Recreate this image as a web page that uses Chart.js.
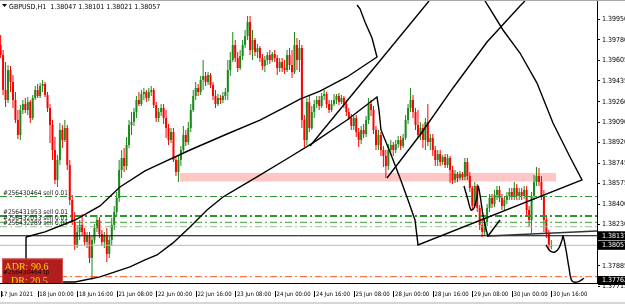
<!DOCTYPE html>
<html><head><meta charset="utf-8">
<script src="https://cdn.jsdelivr.net/npm/chart.js@4.4.1/dist/chart.umd.min.js"></script>
<style>html,body{margin:0;padding:0;background:#fff;overflow:hidden}canvas{display:block}</style>
</head><body>
<canvas id="c" width="625" height="304"></canvas>
<script>
// ---------------- data ----------------
const symbol = 'GBPUSD,H1';
const tickBars = [0,15,31,47,63,79,95,111,127,143,159,175,191,207,223];
const tickLabels = ['17 Jun 2021','18 Jun 00:00','18 Jun 16:00','21 Jun 08:00','22 Jun 00:00','22 Jun 16:00','23 Jun 08:00','24 Jun 00:00','24 Jun 16:00','25 Jun 08:00','28 Jun 00:00','28 Jun 16:00','29 Jun 08:00','30 Jun 00:00','30 Jun 16:00'];
const priceTicks = [1.39950,1.39780,1.39605,1.39435,1.39260,1.39090,1.38920,1.38745,1.38575,1.38400,1.38230,1.37885,1.37715];

const opens = [1.39736,1.39652,1.39359,1.39275,1.39526,1.39426,1.39275,1.39107,1.38982,1.39191,
1.39241,1.39191,1.39258,1.39124,1.39292,1.39359,1.39309,1.39392,1.39409,1.39317,
1.39208,1.39066,1.38856,1.38605,1.38772,1.39024,1.38940,1.39040,1.38730,1.38437,
1.38253,1.38060,1.38169,1.38228,1.38169,1.38085,1.38135,1.37951,1.38102,1.38202,
1.38269,1.38152,1.38085,1.38135,1.37985,1.38102,1.38228,1.38336,1.38454,1.38688,
1.38789,1.38722,1.38898,1.39066,1.39091,1.39174,1.39275,1.39241,1.39325,1.39342,
1.39292,1.39342,1.39359,1.39233,1.39124,1.39174,1.39208,1.39124,1.39040,1.38940,
1.39007,1.38772,1.38672,1.38772,1.38856,1.38982,1.38923,1.39040,1.39191,1.39309,
1.39376,1.39342,1.39443,1.39476,1.39426,1.39485,1.39401,1.39309,1.39241,1.39292,
1.39275,1.39309,1.39342,1.39526,1.39610,1.39736,1.39627,1.39543,1.39644,1.39736,
1.39811,1.39929,1.39694,1.39778,1.39677,1.39711,1.39627,1.39560,1.39610,1.39652,
1.39610,1.39661,1.39627,1.39543,1.39593,1.39543,1.39526,1.39652,1.39568,1.39510,
1.39736,1.39610,1.39711,1.39107,1.38940,1.39258,1.39040,1.39174,1.39241,1.39275,
1.39225,1.39309,1.39325,1.39241,1.39191,1.39241,1.39275,1.39309,1.39258,1.39292,
1.39241,1.39174,1.39124,1.39057,1.39124,1.39007,1.38940,1.39024,1.38990,1.39107,
1.39241,1.39191,1.39024,1.38898,1.38982,1.38856,1.38806,1.38722,1.38856,1.38898,
1.38856,1.38906,1.38940,1.38890,1.38957,1.39107,1.39208,1.39275,1.39174,1.39066,
1.38982,1.39040,1.38940,1.39091,1.38923,1.38957,1.38856,1.38772,1.38823,1.38755,
1.38797,1.38730,1.38789,1.38688,1.38605,1.38655,1.38621,1.38655,1.38630,1.38755,
1.38638,1.38538,1.38387,1.38554,1.38370,1.38228,1.38169,1.38253,1.38370,1.38454,
1.38404,1.38479,1.38521,1.38454,1.38387,1.38437,1.38471,1.38504,1.38471,1.38538,
1.38471,1.38504,1.38471,1.38521,1.38353,1.38269,1.38471,1.38588,1.38638,1.38588,
1.38471,1.38269,1.38152,1.38047];
const highs = [1.39820,1.39694,1.39593,1.39568,1.39560,1.39485,1.39342,1.39191,1.39233,1.39275,
1.39292,1.39300,1.39275,1.39317,1.39392,1.39409,1.39417,1.39443,1.39426,1.39342,
1.39241,1.39107,1.38965,1.38814,1.39082,1.39066,1.39107,1.39066,1.38772,1.38479,
1.38336,1.38228,1.38269,1.38320,1.38202,1.38169,1.38169,1.38135,1.38236,1.38311,
1.38295,1.38186,1.38169,1.38202,1.38135,1.38286,1.38387,1.38504,1.38772,1.38856,
1.38873,1.38965,1.39107,1.39174,1.39208,1.39309,1.39342,1.39359,1.39376,1.39359,
1.39376,1.39392,1.39376,1.39258,1.39208,1.39241,1.39241,1.39191,1.39074,1.39040,
1.39040,1.38806,1.38814,1.38890,1.39057,1.39024,1.39091,1.39241,1.39359,1.39426,
1.39409,1.39476,1.39610,1.39510,1.39510,1.39501,1.39426,1.39359,1.39325,1.39317,
1.39342,1.39376,1.39610,1.39677,1.39845,1.39778,1.39677,1.39694,1.39778,1.39862,
1.39979,1.39979,1.39862,1.39795,1.39744,1.39728,1.39661,1.39644,1.39677,1.39694,
1.39677,1.39694,1.39652,1.39627,1.39627,1.39610,1.39694,1.39711,1.39694,1.39845,
1.39795,1.39778,1.39736,1.39149,1.39292,1.39309,1.39225,1.39275,1.39309,1.39309,
1.39334,1.39359,1.39342,1.39275,1.39275,1.39325,1.39325,1.39334,1.39317,1.39309,
1.39275,1.39208,1.39158,1.39141,1.39149,1.39040,1.39057,1.39074,1.39141,1.39292,
1.39275,1.39225,1.39057,1.39024,1.39007,1.38890,1.38856,1.38906,1.38940,1.38923,
1.38940,1.38973,1.38973,1.38990,1.39149,1.39241,1.39376,1.39317,1.39208,1.39191,
1.39091,1.39074,1.39124,1.39241,1.38990,1.38990,1.38890,1.38856,1.38856,1.38814,
1.38823,1.38823,1.38806,1.38722,1.38688,1.38672,1.38680,1.38672,1.38789,1.38789,
1.38672,1.38554,1.38588,1.38571,1.38395,1.38286,1.38286,1.38404,1.38487,1.38487,
1.38521,1.38554,1.38554,1.38487,1.38471,1.38504,1.38538,1.38538,1.38588,1.38571,
1.38538,1.38538,1.38554,1.38554,1.38387,1.38504,1.38647,1.38714,1.38705,1.38638,
1.38521,1.38311,1.38186,1.38101];
const lows = [1.39627,1.39317,1.39216,1.39250,1.39342,1.39208,1.39082,1.38948,1.38940,1.39158,
1.39166,1.39149,1.39082,1.39107,1.39275,1.39292,1.39292,1.39342,1.39300,1.39174,
1.38915,1.38772,1.38571,1.38546,1.38730,1.38873,1.38923,1.38688,1.38395,1.38228,
1.38018,1.38035,1.38102,1.38144,1.38052,1.38035,1.37909,1.37767,1.38069,1.38169,
1.38119,1.38052,1.38035,1.37917,1.37951,1.38052,1.38186,1.38303,1.38420,1.38621,
1.38672,1.38688,1.38873,1.38982,1.39057,1.39124,1.39225,1.39225,1.39275,1.39258,
1.39267,1.39309,1.39208,1.39091,1.39091,1.39141,1.39074,1.38957,1.38898,1.38915,
1.38755,1.38638,1.38588,1.38722,1.38839,1.38890,1.38898,1.39007,1.39174,1.39275,
1.39309,1.39317,1.39359,1.39392,1.39401,1.39376,1.39275,1.39208,1.39225,1.39241,
1.39250,1.39275,1.39275,1.39476,1.39593,1.39593,1.39510,1.39526,1.39610,1.39711,
1.39778,1.39652,1.39610,1.39644,1.39627,1.39593,1.39526,1.39510,1.39568,1.39577,
1.39593,1.39593,1.39485,1.39510,1.39510,1.39493,1.39510,1.39526,1.39459,1.39493,
1.39526,1.39510,1.39040,1.38881,1.38898,1.39007,1.39024,1.39124,1.39208,1.39191,
1.39208,1.39275,1.39208,1.39166,1.39174,1.39225,1.39241,1.39233,1.39241,1.39208,
1.39141,1.39107,1.39024,1.39024,1.38965,1.38881,1.38906,1.38957,1.38965,1.39074,
1.39141,1.38990,1.38856,1.38856,1.38806,1.38714,1.38621,1.38688,1.38814,1.38806,
1.38831,1.38873,1.38856,1.38873,1.38940,1.39074,1.39174,1.39124,1.39024,1.38957,
1.38940,1.38873,1.38856,1.38890,1.38856,1.38806,1.38722,1.38722,1.38722,1.38730,
1.38705,1.38705,1.38579,1.38571,1.38579,1.38588,1.38605,1.38605,1.38605,1.38605,
1.38504,1.38353,1.38370,1.38336,1.38186,1.38127,1.38135,1.38219,1.38336,1.38370,
1.38378,1.38437,1.38420,1.38353,1.38353,1.38404,1.38437,1.38437,1.38437,1.38437,
1.38437,1.38437,1.38445,1.38311,1.38211,1.38161,1.38437,1.38554,1.38554,1.38437,
1.38169,1.38119,1.38018,1.38021];
const closes = [1.39652,1.39359,1.39275,1.39526,1.39426,1.39275,1.39107,1.38982,1.39191,1.39241,
1.39191,1.39258,1.39124,1.39292,1.39359,1.39309,1.39392,1.39409,1.39317,1.39208,
1.39066,1.38856,1.38605,1.38772,1.39024,1.38940,1.39040,1.38730,1.38437,1.38253,
1.38060,1.38169,1.38228,1.38169,1.38085,1.38135,1.37951,1.38102,1.38202,1.38269,
1.38152,1.38085,1.38135,1.37985,1.38102,1.38228,1.38336,1.38454,1.38688,1.38789,
1.38722,1.38898,1.39066,1.39091,1.39174,1.39275,1.39241,1.39325,1.39342,1.39292,
1.39342,1.39359,1.39233,1.39124,1.39174,1.39208,1.39124,1.39040,1.38940,1.39007,
1.38772,1.38672,1.38772,1.38856,1.38982,1.38923,1.39040,1.39191,1.39309,1.39376,
1.39342,1.39443,1.39476,1.39426,1.39485,1.39401,1.39309,1.39241,1.39292,1.39275,
1.39309,1.39342,1.39526,1.39610,1.39736,1.39627,1.39543,1.39644,1.39736,1.39811,
1.39929,1.39694,1.39778,1.39677,1.39711,1.39627,1.39560,1.39610,1.39652,1.39610,
1.39661,1.39627,1.39543,1.39593,1.39543,1.39526,1.39652,1.39568,1.39510,1.39736,
1.39610,1.39711,1.39107,1.38940,1.39258,1.39040,1.39174,1.39241,1.39275,1.39225,
1.39309,1.39325,1.39241,1.39191,1.39241,1.39275,1.39309,1.39258,1.39292,1.39241,
1.39174,1.39124,1.39057,1.39124,1.39007,1.38940,1.39024,1.38990,1.39107,1.39241,
1.39191,1.39024,1.38898,1.38982,1.38856,1.38806,1.38722,1.38856,1.38898,1.38856,
1.38906,1.38940,1.38890,1.38957,1.39107,1.39208,1.39275,1.39174,1.39066,1.38982,
1.39040,1.38940,1.39091,1.38923,1.38957,1.38856,1.38772,1.38823,1.38755,1.38797,
1.38730,1.38789,1.38688,1.38605,1.38655,1.38621,1.38655,1.38630,1.38755,1.38638,
1.38538,1.38387,1.38554,1.38370,1.38228,1.38169,1.38253,1.38370,1.38454,1.38404,
1.38479,1.38521,1.38454,1.38387,1.38437,1.38471,1.38504,1.38471,1.38538,1.38471,
1.38504,1.38471,1.38521,1.38353,1.38269,1.38471,1.38588,1.38638,1.38588,1.38471,
1.38269,1.38152,1.38052,1.38057];

// horizontal levels
const resistLevel = 1.38137;
const bidLevel = 1.38057;
const tpLevel = 1.37794;
const orderLevels = [1.38466, 1.38303, 1.38250, 1.38213];
const orderTexts = ['#256430464 sell 0.01','#256431953 sell 0.01','#256432033 sell 0.01','#256432289 sell 0.01'];
const tpText = '#256430464 tp';
const axisMarks = [1.38137, 1.38057, 1.37762];
// supply zone (bar index range, price range)
const zoneBars = [72.6, 224.9];
const zonePrices = [1.38663, 1.38592];
// ADR panel
const adrValue = 90.6, drValue = 20.5;

// hand drawn lines: [bar index, price]
const drawUpper = [[10.28,1.38127],[17.97,1.38169],[30.12,1.38269],[40.24,1.38387],[48.34,1.38546],[58.47,1.38680],[64.54,1.38739],[76.69,1.38856],[91.67,1.38990],[105.03,1.39107],[115.16,1.39216],[121.23,1.39283],[129.33,1.39350],[140.26,1.39468],[152.41,1.39635],[150.39,1.39795],[147.55,1.39929],[145.53,1.40039],[144.31,1.40071]];
const drawLower = [[10.28,1.38127],[10.28,1.37750],[30.12,1.37750],[40.24,1.37792],[52.39,1.37876],[58.47,1.37934],[63.33,1.37976],[69.81,1.38077],[76.69,1.38211],[83.57,1.38353],[90.05,1.38462],[96.94,1.38546],[103.82,1.38630],[115.16,1.38772],[126.50,1.38915],[140.26,1.39107],[152.41,1.39300],[153.22,1.39191],[154.03,1.39024],[157.68,1.38839],[161.73,1.38621],[164.97,1.38437],[167.80,1.38269],[169.02,1.38060],[235.43,1.38605],[230.57,1.38797],[223.68,1.39082],[217.20,1.39417],[210.32,1.39669],[203.43,1.39862],[198.17,1.40039],[196.15,1.40105]];
const drawRay1 = [[125.28,1.38890],[173.47,1.40105]];
const drawRay2 = [[156.46,1.38621],[169.83,1.38982],[183.19,1.39376],[196.96,1.39761],[210.32,1.40063],[212.34,1.40105]];
const drawHook = [[187.64,1.38554],[189.26,1.38437],[190.48,1.38353],[191.69,1.38370],[192.91,1.38462],[193.31,1.38554],[194.12,1.38479],[195.34,1.38311],[196.96,1.38161],[197.36,1.38127]];
const drawTick = [[197.36,1.38135],[202.22,1.38269]];
const drawFlat = [[197.36,1.38135],[241.5,1.38177]];
const drawEnd = [[220.85,1.38060],[222.47,1.38010],[224.49,1.38001],[226.11,1.38035],[227.33,1.38102],[227.74,1.38135],[228.95,1.38018],[230.17,1.37867],[231.38,1.37758],[233.81,1.37750],[236.24,1.37781]];

// ---------------- chart ----------------
const FONT = "'Liberation Sans Narrow','DejaVu Sans Condensed','Liberation Sans',sans-serif";
Chart.defaults.font.family = FONT;
const X_MIN = -0.25, X_MAX = 241.5, Y_MIN = 1.37741, Y_MAX = 1.40105;
const BULL = '#1a8a1a', BEAR = '#ff0000';
const candleColors = opens.map((o, i) => closes[i] >= o ? BULL : BEAR);
const DASHDOT = [7, 3, 2, 3];

function hline(p, color, width, dash) {
  return {type:'line', data:[{x:X_MIN,y:p},{x:X_MAX,y:p}], borderColor:color, borderWidth:width,
          borderDash:dash || [], pointRadius:0, fill:false, order:2};
}
function path(pts, extra) {
  return Object.assign({type:'line', data:pts.map(p => ({x:p[0], y:p[1]})), borderColor:'#000',
          borderWidth:1.4, pointRadius:0, fill:false, tension:0, order:1}, extra || {});
}

const datasets = [
  {type:'line', data:[{x:zoneBars[0],y:zonePrices[0]},{x:zoneBars[1],y:zonePrices[0]}], borderWidth:0,
   pointRadius:0, fill:'+1', backgroundColor:'#ffc6c6', order:20},
  {type:'line', data:[{x:zoneBars[0],y:zonePrices[1]},{x:zoneBars[1],y:zonePrices[1]}], borderWidth:0,
   pointRadius:0, fill:false, order:21},
  {type:'bar', data:opens.map((o,i) => ({x:i, y:[lows[i], highs[i]]})), backgroundColor:candleColors,
   barThickness:1, grouped:false, inflateAmount:0, order:6},
  {type:'bar', data:opens.map((o,i) => ({x:i, y:[o, closes[i]]})), backgroundColor:candleColors,
   barThickness:2, grouped:false, inflateAmount:0, minBarLength:1, order:5},
  hline(orderLevels[0], '#2f962f', 1, DASHDOT),
  hline(orderLevels[1], '#2f962f', 2, DASHDOT),
  hline(orderLevels[2], '#3c9c3c', 1, DASHDOT),
  hline(orderLevels[3], '#8cc48c', 1, DASHDOT),
  hline(tpLevel, '#ff5a1e', 1, DASHDOT),
  hline(bidLevel, '#b8b8b8', 1),
  hline(resistLevel, '#000000', 1),
  path(drawUpper), path(drawLower), path(drawRay1), path(drawRay2),
  path(drawHook, {tension:0.35}), path(drawTick), path(drawFlat, {borderColor:'#333'}),
  path(drawEnd, {tension:0.35})
];

const overlay = {
  id:'overlay',
  afterDatasetsDraw(chart) {
    const {ctx, chartArea:a, scales:{y}} = chart;
    ctx.save();
    ctx.beginPath(); ctx.rect(a.left, a.top, a.right - a.left, a.bottom - a.top); ctx.clip();
    ctx.textAlign = 'left'; ctx.textBaseline = 'alphabetic';
    ctx.font = '6.5px ' + FONT; ctx.fillStyle = '#222';
    orderLevels.forEach((p, k) => ctx.fillText(orderTexts[k], 3, y.getPixelForValue(p) - 2));
    // ADR panel
    ctx.fillStyle = '#b01e1e'; ctx.fillRect(2, 258.5, 61, 30);
    ctx.strokeStyle = '#d65050'; ctx.lineWidth = 1; ctx.strokeRect(2.5, 259, 60, 30);
    ctx.fillStyle = '#ffd400'; ctx.font = "10px 'Liberation Serif', serif";
    ctx.fillText('ADR: ' + adrValue.toFixed(1), 4.5, 270);
    ctx.fillText('DR: ' + drValue.toFixed(1), 11, 284);
    ctx.font = '6.5px ' + FONT; ctx.fillStyle = '#111';
    ctx.fillText(tpText, 3, y.getPixelForValue(tpLevel) - 2.5);
    ctx.restore();
  },
  afterDraw(chart) {
    const {ctx, scales:{x, y}} = chart;
    ctx.save();
    ctx.fillStyle = '#a8a8a8'; ctx.fillRect(0, 0, 625, 1);
    ctx.fillStyle = '#d6d6d6'; ctx.fillRect(0, 302, 625, 2);
    ctx.strokeStyle = '#000'; ctx.lineWidth = 1;
    tickBars.forEach(v => {
      const px = Math.round(x.getPixelForValue(v)) + 0.5;
      ctx.beginPath(); ctx.moveTo(px, 291); ctx.lineTo(px, 297); ctx.stroke();
    });
    ctx.font = '7px ' + FONT; ctx.textBaseline = 'middle'; ctx.textAlign = 'left';
    axisMarks.forEach(p => {
      const py = y.getPixelForValue(p);
      ctx.fillStyle = '#000'; ctx.fillRect(598, py - 4.5, 27, 9);
      ctx.fillStyle = '#fff'; ctx.fillText(p.toFixed(5), 602, py);
    });
    ctx.fillStyle = '#000';
    ctx.beginPath(); ctx.moveTo(2, 4); ctx.lineTo(7, 4); ctx.lineTo(4.5, 7); ctx.closePath(); ctx.fill();
    const n = opens.length - 1;
    ctx.font = '7px ' + FONT; ctx.textBaseline = 'alphabetic';
    ctx.fillText(symbol + '  ' + [opens[n], highs[n], lows[n], closes[n]].map(v => v.toFixed(5)).join(' '), 9, 8.5);
    ctx.restore();
  }
};

new Chart(document.getElementById('c'), {
  type:'bar',
  data:{datasets},
  options:{
    responsive:false, animation:false, devicePixelRatio:1,
    layout:{padding:{top:1,left:0,right:0,bottom:0}, autoPadding:false},
    plugins:{legend:{display:false}, tooltip:{enabled:false}},
    scales:{
      x:{type:'linear', min:X_MIN, max:X_MAX, offset:false, bounds:'data',
         grid:{display:false, drawOnChartArea:false, drawTicks:false, offset:false},
         border:{display:true, color:'#000', width:1},
         afterBuildTicks:s => { s.ticks = tickBars.map(v => ({value:v})); },
         afterFit:s => { s.height = 21; s.paddingLeft = 0; s.paddingRight = 0; },
         ticks:{autoSkip:false, maxRotation:0, minRotation:0, align:'start', padding:8, color:'#000',
                font:{size:6, family:FONT},
                callback:v => { const k = tickBars.indexOf(v); return k < 0 ? '' : (k === 0 ? '' : ' ') + tickLabels[k]; }}},
      y:{type:'linear', position:'right', min:Y_MIN, max:Y_MAX, bounds:'data',
         grid:{display:true, drawOnChartArea:false, drawTicks:true, tickLength:3, color:'#000'},
         border:{display:true, color:'#000', width:1},
         afterBuildTicks:s => { s.ticks = priceTicks.map(v => ({value:v})); },
         afterFit:s => { s.width = 28; s.paddingTop = 0; s.paddingBottom = 0; },
         ticks:{autoSkip:false, padding:2, color:'#000', font:{size:7, family:FONT}, callback:v => v.toFixed(5)}}
    }
  },
  plugins:[overlay]
});
</script>
</body></html>
